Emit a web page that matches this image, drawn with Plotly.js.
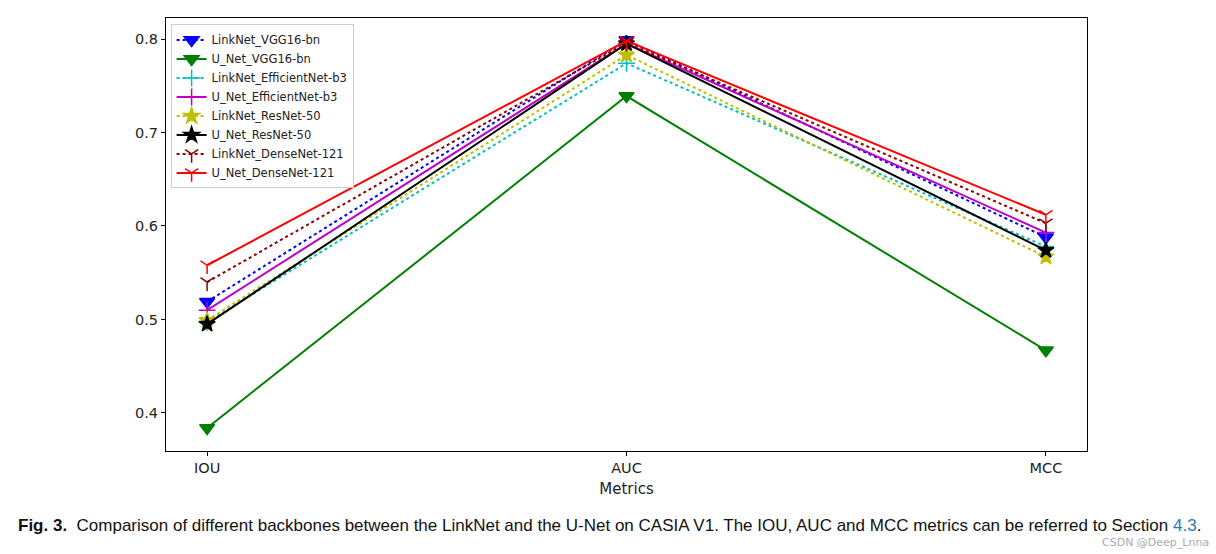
<!DOCTYPE html>
<html>
<head>
<meta charset="utf-8">
<script src="https://cdn.plot.ly/plotly-3.0.1.min.js"></script>
<style>html,body{margin:0;padding:0;background:#fff;}#chart{width:1216px;height:554px;}</style>
</head>
<body>
<div id="chart"></div>
<script>
const metrics = ["IOU", "AUC", "MCC"];
const seriesNames = ["LinkNet_VGG16-bn", "U_Net_VGG16-bn", "LinkNet_EfficientNet-b3", "U_Net_EfficientNet-b3",
  "LinkNet_ResNet-50", "U_Net_ResNet-50", "LinkNet_DenseNet-121", "U_Net_DenseNet-121"];
const linknetVGG = [0.519, 0.799, 0.588];
const unetVGG = [0.384, 0.739, 0.467];
const linknetEff = [0.497, 0.774, 0.578];
const unetEff = [0.510, 0.795, 0.593];
const linknetRes = [0.499, 0.783, 0.567];
const unetRes = [0.495, 0.795, 0.574];
const linknetDense = [0.540, 0.796, 0.603];
const unetDense = [0.558, 0.798, 0.612];
const seriesValues = [linknetVGG, unetVGG, linknetEff, unetEff, linknetRes, unetRes, linknetDense, unetDense];
const colors = ["#0000ff", "#008000", "#00bfbf", "#bf00bf", "#bfbf00", "#000000", "#8b0000", "#ff0000"];
const symbols = ["triangle-down", "triangle-down", "cross-thin-open", "cross-thin-open", "star", "star", "y-down-open", "y-down-open"];
const dashes = ["dot", "solid", "dot", "solid", "dot", "solid", "dot", "solid"];
const msizes = [13, 13, 12, 12, 12, 12, 11, 11];

const xIdx = metrics.map((m, i) => i);
const traces = seriesNames.map((name, k) => ({
  x: xIdx, y: seriesValues[k], name: name, type: "scatter", mode: "lines+markers",
  line: {color: colors[k], width: 2, dash: dashes[k]},
  marker: {symbol: symbols[k], size: msizes[k], color: colors[k], line: {color: colors[k], width: 1.5}}
}));

const layout = {
  width: 1216, height: 554,
  margin: {l: 166, r: 129, t: 18, b: 103},
  paper_bgcolor: "#fff", plot_bgcolor: "#fff",
  font: {family: "DejaVu Sans", color: "#222"},
  xaxis: {
    range: [-0.098, 2.098], tickvals: xIdx, ticktext: metrics, showgrid: false, zeroline: false,
    showline: true, linecolor: "#000", linewidth: 1, mirror: true,
    ticks: "outside", ticklen: 4, tickcolor: "#000", tickfont: {size: 14.5, family: "DejaVu Sans"},
    title: {text: "Metrics", font: {size: 15, family: "DejaVu Sans"}, standoff: 8}
  },
  yaxis: {
    range: [0.3593, 0.8225], tickvals: [0.4, 0.5, 0.6, 0.7, 0.8], ticktext: ["0.4", "0.5", "0.6", "0.7", "0.8"],
    showgrid: false, zeroline: false,
    showline: true, linecolor: "#000", linewidth: 1, mirror: true,
    ticks: "outside", ticklen: 4, tickcolor: "#000", tickfont: {size: 14.5, family: "DejaVu Sans"}
  },
  showlegend: true,
  legend: {x: 0.005, y: 0.985, xanchor: "left", yanchor: "top", bgcolor: "#fff",
    bordercolor: "#ccc", borderwidth: 1, font: {size: 11.5, family: "DejaVu Sans"}, tracegroupgap: 0, itemwidth: 30},
  annotations: [
    {xref: "paper", yref: "paper", x: -0.163, y: -0.172, xanchor: "left", yanchor: "middle", showarrow: false,
     text: "<b>Fig. 3.</b>  Comparison of different backbones between the LinkNet and the U-Net on CASIA V1. The IOU, AUC and MCC metrics can be referred to Section <span style='color:#2a7ab0'>4.3</span>.",
     font: {family: "Liberation Sans", size: 17, color: "#111"}},
    {xref: "paper", yref: "paper", x: 1.135, y: -0.212, xanchor: "right", yanchor: "middle", showarrow: false,
     text: "CSDN @Deep_Lnna", font: {family: "DejaVu Sans", size: 11, color: "#aaa"}}
  ]
};
Plotly.newPlot("chart", traces, layout, {displayModeBar: false, staticPlot: true});
</script>
</body>
</html>
